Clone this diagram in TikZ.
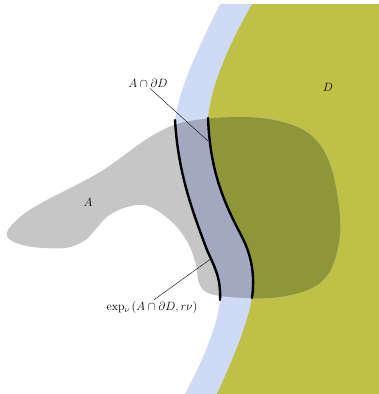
\documentclass[tikz,border=0pt]{standalone}
\usetikzlibrary{positioning}

\definecolor{oliveD}{RGB}{191,193,71}
\definecolor{oliveA}{RGB}{143,150,56}
\definecolor{bandblue}{RGB}{207,218,245}
\definecolor{bandA}{RGB}{162,168,192}
\definecolor{grayA}{RGB}{198,198,198}

% region A
\newcommand{\shapeA}{plot[smooth cycle, tension=0.6] coordinates {
    (7,232) (20,217) (43,202) (100,172) (150,137) (185,122) (240,117)
    (283,122) (313,137) (331,167) (340,217) (337,252) (326,277)
    (305,291) (270,298) (230,297) (208,293) (199,283) (196,265)
    (188,243) (172,222) (148,206) (127,207) (108,216) (95,230)
    (84,241) (65,248) (33,247) (12,241)}}
% outer side of the collar
\newcommand{\shapeband}{(220,4) .. controls (200,45) and (180,85) .. (175,120)
    .. controls (178,170) and (190,205) .. (207,250)
    .. controls (215,268) and (221,278) .. (220,300)
    .. controls (217,330) and (200,365) .. (185,394)
    -- (379,394) -- (379,4) -- cycle}
% region D
\newcommand{\shapeD}{(252,4) .. controls (232,40) and (212,80) .. (208,118)
    .. controls (210,165) and (220,195) .. (240,233)
    .. controls (252,255) and (255,275) .. (252,298)
    .. controls (246,330) and (230,365) .. (217,394)
    -- (379,394) -- (379,4) -- cycle}

\begin{document}
\begin{tikzpicture}[
    x=1pt, y=-1pt,
    rim/.style={line width=2.4pt, black, line cap=round},
    leader/.style={thin, black},
    lbl/.style={inner sep=1pt, font=\fontsize{11.5}{13}\selectfont}
]
\useasboundingbox (0,0) rectangle (379,394);

\fill[bandblue] \shapeband;
\fill[oliveD] \shapeD;
\fill[grayA] \shapeA;
\begin{scope}
    \clip \shapeA;
    \fill[bandA] \shapeband;
    \fill[oliveA] \shapeD;
\end{scope}

% boundary pieces inside A
\draw[rim] (175,120) .. controls (178,170) and (190,205) .. (207,250)
    .. controls (215,268) and (221,278) .. (220,300);
\draw[rim] (208,118) .. controls (210,165) and (220,195) .. (240,233)
    .. controls (252,255) and (255,275) .. (252,298);

\node[lbl] (lblD) at (328,87) {$D$};
\node[lbl] (lblA) at (88,202) {$A$};
\node[lbl] (lblcap) at (148,83) {$A\cap\partial D$};
\node[lbl] (lblexp) at (152,307) {$\exp_{\nu}\,(A\cap\partial D, r\nu)$};

\coordinate (capend) at (208,141);
\coordinate (expend) at (212,258);
\draw[leader] (lblcap.-70) -- (capend);
\draw[leader] (lblexp.75) -- (expend);

\end{tikzpicture}
\end{document}
